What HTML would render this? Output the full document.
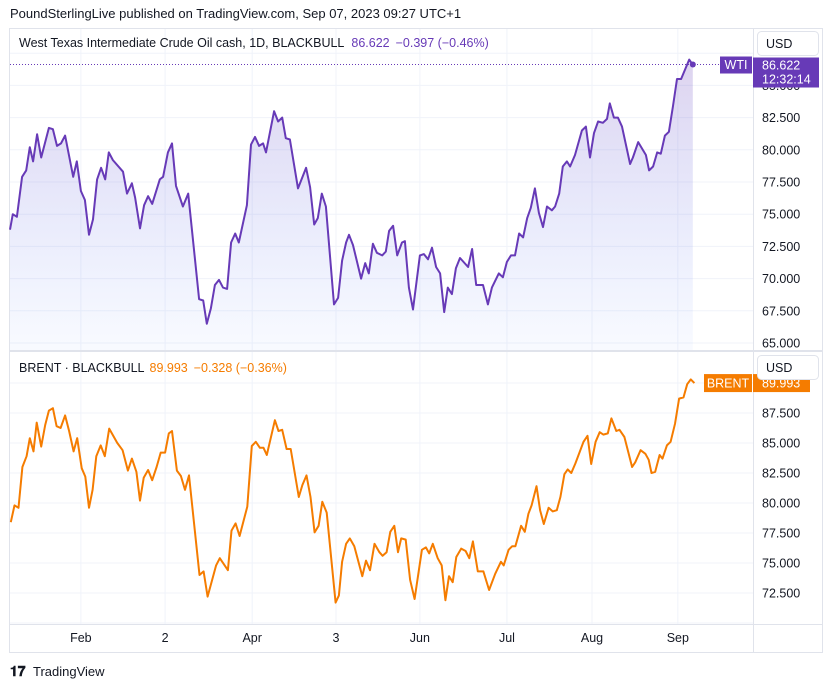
<!DOCTYPE html>
<html><head><meta charset="utf-8"><style>
body{margin:0;background:#fff;}
svg{display:block;font-family:"Liberation Sans",sans-serif;}
</style></head><body>
<svg id="chart" width="833" height="688" viewBox="0 0 833 688">
<defs>
<linearGradient id="wtiFill" x1="0" y1="0" x2="0" y2="1">
<stop offset="0" stop-color="#673ab7" stop-opacity="0.22"/>
<stop offset="1" stop-color="#2962ff" stop-opacity="0.03"/>
</linearGradient>
</defs>
<text x="10" y="18" font-size="13" fill="#131722">PoundSterlingLive published on TradingView.com, Sep 07, 2023 09:27 UTC+1</text>
<rect x="9.5" y="28.5" width="813" height="624" fill="#fff" stroke="#e0e3eb"/>
<g id="grid"></g>
<g id="plots"></g>
<line x1="9" y1="351" x2="823" y2="351" stroke="#e0e3eb" stroke-width="2"/>
<line x1="753.5" y1="28" x2="753.5" y2="652" stroke="#e0e3eb"/>
<line x1="9" y1="624.5" x2="823" y2="624.5" stroke="#e0e3eb"/>
<g id="axes"></g>
<text x="19" y="47" font-size="12.5" fill="#131722">West Texas Intermediate Crude Oil cash, 1D, BLACKBULL <tspan fill="#673ab7" dx="4">86.622</tspan><tspan fill="#673ab7" dx="6">−0.397 (−0.46%)</tspan></text>
<text x="19" y="372" font-size="12.5" fill="#131722">BRENT · BLACKBULL <tspan fill="#f57c00" dx="2">89.993</tspan><tspan fill="#f57c00" dx="6">−0.328 (−0.36%)</tspan></text>
<rect x="757.5" y="31.5" width="61" height="24" rx="4" fill="#fff" stroke="#e0e3eb"/>
<text x="766" y="48" font-size="12.5" fill="#131722">USD</text>
<rect x="757.5" y="355.5" width="61" height="24" rx="4" fill="#fff" stroke="#e0e3eb"/>
<text x="766" y="372" font-size="12.5" fill="#131722">USD</text>
<g id="tv-logo">
<text x="10" y="676" font-size="14" font-weight="bold" fill="#131722">𝟏𝟕</text>
<text x="33" y="676" font-size="13" fill="#131722">TradingView</text>
</g>
</svg>
<script>
const NS="http://www.w3.org/2000/svg";
const wtiBars=[0,0.7,1.7,3.0,4.0,4.9,5.7,6.7,7.7,9.6,10.6,11.6,12.6,13.6,15.6,16.5,17.5,18.5,19.5,20.5,21.5,22.5,23.5,24.4,25.4,27.9,28.9,30.1,30.9,32.1,33.1,34.1,35.1,37.0,37.8,39.0,40.0,41.0,42.7,44.0,46.7,47.7,48.6,49.6,50.6,51.6,52.6,53.6,54.6,55.6,56.5,58.5,59.5,60.5,61.5,62.5,63.2,65.2,66.2,67.2,68.1,69.1,71.1,73.1,74.1,75.1,76.0,77.0,78.0,80.0,81.0,82.0,83.0,83.7,84.7,86.7,87.7,88.6,89.6,90.6,91.9,92.8,93.6,94.6,95.6,96.8,97.5,98.5,99.5,101.2,102.2,103.2,104.2,105.2,106.2,107.2,108.1,109.1,110.1,111.1,113.1,114.1,115.1,116.8,118.0,119.0,120.7,121.7,122.7,123.7,124.7,125.7,126.7,127.7,128.6,129.6,130.6,131.6,132.6,133.8,134.6,135.6,136.5,137.5,138.3,139.5,141.2,142.2,143.2,144.2,145.2,146.4,147.4,148.1,149.1,150.1,151.1,153.1,153.8,155.1,157.0,157.8,158.8,159.8,160.7,161.7,162.7,163.7,164.7,165.7,167.7,168.6];
const wtiValues=[73.8,75.0,74.8,77.9,78.4,80.2,79.1,81.2,79.4,81.7,81.6,80.3,80.5,81.1,77.9,79.1,76.8,76.1,73.4,74.6,77.7,78.6,77.7,79.8,79.2,78.3,76.6,77.4,76.3,73.9,75.7,76.4,75.8,77.7,77.9,79.8,80.5,77.2,75.6,76.6,68.4,68.3,66.5,67.7,69.5,69.9,69.3,69.2,72.8,73.5,72.8,75.7,80.4,81.0,80.3,80.5,79.8,83.0,82.2,82.5,80.9,80.8,77.0,78.6,77.1,74.2,74.7,76.6,75.6,68.0,68.5,71.4,72.8,73.4,72.6,70.0,71.2,70.4,72.7,72.0,71.8,72.1,73.7,74.1,71.8,72.8,72.9,69.3,67.6,71.8,71.9,71.5,72.4,70.9,70.4,67.4,69.3,68.8,70.8,71.6,70.9,72.3,69.5,69.5,68.0,69.3,70.4,70.1,71.3,71.8,71.8,73.5,73.2,74.7,75.5,77.0,75.1,74.0,75.6,75.3,75.6,76.6,78.7,79.1,78.7,79.6,81.5,81.8,79.4,81.3,82.2,82.1,82.4,83.6,82.5,82.5,81.8,78.9,79.4,80.6,79.6,78.4,78.7,79.8,79.7,81.1,81.4,83.4,85.5,85.5,87.0,86.6];
const brentBars=[0.2,1.1,2.1,3.05,4.1,4.9,5.8,6.6,7.7,8.7,9.6,10.6,11.5,12.5,13.6,14.6,15.7,16.6,17.7,18.6,19.5,20.4,21.3,22.4,23.4,24.5,26.5,27.8,29.1,30.1,31.2,32.1,33.0,34.1,35.1,36.2,37.2,38.3,39.2,40.0,41.2,42.2,43.2,44.2,46.8,47.8,48.8,50.9,51.8,53.8,54.7,55.7,56.7,58.6,59.7,60.7,61.7,62.6,63.4,65.4,66.3,67.2,68.3,69.3,71.3,72.2,73.2,74.2,75.2,76.2,77.1,78.2,80.4,81.2,82.0,83.0,83.9,85.0,87.0,87.9,88.9,90.0,91.2,92.0,93.0,93.9,94.9,95.8,96.6,97.7,98.8,99.9,101.7,102.7,103.5,104.4,105.6,106.6,107.5,108.4,109.3,110.2,111.4,112.5,113.4,114.3,115.5,116.9,118.3,119.8,121.2,121.9,123.1,124.0,124.8,126.2,127.1,128.0,128.8,130.0,130.9,131.8,133.0,134.0,135.0,135.9,136.9,137.7,138.6,139.6,141.6,142.6,143.5,144.6,145.6,146.5,147.6,148.5,149.7,150.5,151.7,153.6,154.4,155.7,156.9,157.7,158.4,159.3,160.4,161.1,162.2,163.1,164.2,165.2,166.3,167.2,168.1,169.0];
const brentValues=[78.4,79.8,79.6,83.0,83.9,85.4,84.3,86.7,84.7,86.5,87.7,87.9,86.4,86.25,87.3,86.0,84.3,85.4,82.9,82.2,79.6,81.1,83.9,84.8,83.9,86.2,85.0,84.4,82.7,83.7,82.6,80.2,82.1,82.75,81.9,83.0,84.2,84.2,85.8,86.0,82.7,82.25,81.1,82.3,74.0,74.3,72.2,74.8,75.4,74.4,77.7,78.3,77.25,79.7,84.75,85.1,84.6,84.6,84.0,86.9,86.0,86.1,84.5,84.5,80.5,81.5,82.3,80.5,77.55,78.1,80.1,79.2,71.7,72.3,75.1,76.6,77.05,76.4,73.9,75.2,74.4,76.6,75.9,75.6,75.9,77.6,78.1,75.9,77.05,76.95,73.6,72.0,76.1,76.3,75.8,76.6,75.4,74.8,71.9,73.9,73.4,75.5,76.2,76.0,75.4,76.8,74.3,74.3,72.75,74.1,75.1,74.8,76.1,76.4,76.4,78.1,77.6,79.1,79.8,81.4,79.4,78.25,79.6,79.3,79.4,80.5,82.4,82.8,82.5,83.3,85.1,85.6,83.25,85.1,85.9,85.7,85.8,87.05,86.0,86.1,85.5,83.0,83.4,84.4,84.1,83.6,82.5,82.6,84.0,83.7,84.8,85.1,86.6,88.7,88.8,89.9,90.3,89.99];
const timeTickLabels=["Feb","2","Apr","3","Jun","Jul","Aug","Sep"];
const timeTickBars=[17.5,38.3,59.8,80.5,101.2,122.7,143.7,164.9];
const wtiTicks=[67.5,70,72.5,75,77.5,80,82.5,85];
const brentTicks=[72.5,75,77.5,80,82.5,85,87.5];
const wtiLast=86.622, brentLast=89.993;

const xS=b=>10+b*4.05;
const yW=v=>343-(v-65)*12.88;
const yB=v=>593-(v-72.5)*12;
function mk(tag,attrs,parent){const e=document.createElementNS(NS,tag);for(const k in attrs)e.setAttribute(k,attrs[k]);parent.appendChild(e);return e;}
const grid=document.getElementById('grid'),plots=document.getElementById('plots'),axes=document.getElementById('axes');
// vertical grid + time labels
timeTickBars.forEach((b,i)=>{
 const x=xS(b);
 const l=mk('line',{x1:x,x2:x,y1:29,y2:624,stroke:'#f0f3fa'},grid);
 
 
 const t=mk('text',{x:x,y:642,'font-size':12.5,'text-anchor':'middle',fill:'#131722'},axes);
 t.textContent=timeTickLabels[i];
 
 
});
// horizontal grids
[65].concat(wtiTicks,[87.5]).forEach(v=>{
 const y=yW(v);
 const l=mk('line',{x1:10,x2:753,y1:y,y2:y,stroke:'#f0f3fa'},grid);
 
 
});
[70].concat(brentTicks,[90]).forEach(v=>{
 const y=yB(v);
 const l=mk('line',{x1:10,x2:753,y1:y,y2:y,stroke:'#f0f3fa'},grid);
 
 
});
[65].concat(wtiTicks).forEach(v=>{
 const t=mk('text',{x:762,y:yW(v)+4.5,'font-size':12.5,fill:'#131722'},axes);
 t.textContent=v.toFixed(3);
 
 
});
brentTicks.forEach(v=>{
 const t=mk('text',{x:762,y:yB(v)+4.5,'font-size':12.5,fill:'#131722'},axes);
 t.textContent=v.toFixed(3);
 
 
});
// WTI area+line
let d=wtiBars.map((b,i)=>(i?'L':'M')+xS(b).toFixed(1)+','+yW(wtiValues[i]).toFixed(1)).join('');
const area=mk('path',{d:d+'L'+xS(wtiBars[wtiBars.length-1])+',350L'+xS(wtiBars[0])+',350Z',fill:'url(#wtiFill)'},plots);


const wl=mk('path',{d:d,fill:'none',stroke:'#673ab7','stroke-width':2,'stroke-linejoin':'round'},plots);


const lastX=xS(wtiBars[wtiBars.length-1]);
const dl=mk('line',{x1:10,x2:720,y1:yW(wtiLast),y2:yW(wtiLast),stroke:'#673ab7','stroke-dasharray':'1 2'},plots);


const dot=mk('circle',{cx:lastX,cy:yW(wtiLast),r:3,fill:'#673ab7'},plots);


// Brent line
const bd=brentBars.map((b,i)=>(i?'L':'M')+xS(b).toFixed(1)+','+yB(brentValues[i]).toFixed(1)).join('');
const bl=mk('path',{d:bd,fill:'none',stroke:'#f57c00','stroke-width':2,'stroke-linejoin':'round'},plots);


// labels
const yw=yW(wtiLast);
const wb=mk('rect',{x:720,y:yw-8,width:32,height:17,fill:'#673ab7'},axes);


const wt=mk('text',{x:736,y:yw+4.5,'font-size':12.5,'text-anchor':'middle',fill:'#fff'},axes);
wt.textContent='WTI';


const wp=mk('rect',{x:753,y:yw-7,width:66,height:30,fill:'#673ab7'},axes);


const wpt=mk('text',{x:762,y:yw+5,'font-size':12.5,fill:'#fff'},axes);
wpt.textContent=wtiLast.toFixed(3);


const wct=mk('text',{x:762,y:yw+19,'font-size':12.5,fill:'#fff'},axes);
wct.textContent='12:32:14';


const yb=yB(brentLast);
const bb=mk('rect',{x:704,y:yb-9,width:48,height:18,fill:'#f57c00'},axes);


const bt=mk('text',{x:728,y:yb+4.5,'font-size':12.5,'text-anchor':'middle',fill:'#fff'},axes);
bt.textContent='BRENT';


const bp=mk('rect',{x:753,y:yb-9,width:57,height:18,fill:'#f57c00'},axes);


const bpt=mk('text',{x:762,y:yb+4.5,'font-size':12.5,fill:'#fff'},axes);
bpt.textContent=brentLast.toFixed(3);


</script>
</body></html>
